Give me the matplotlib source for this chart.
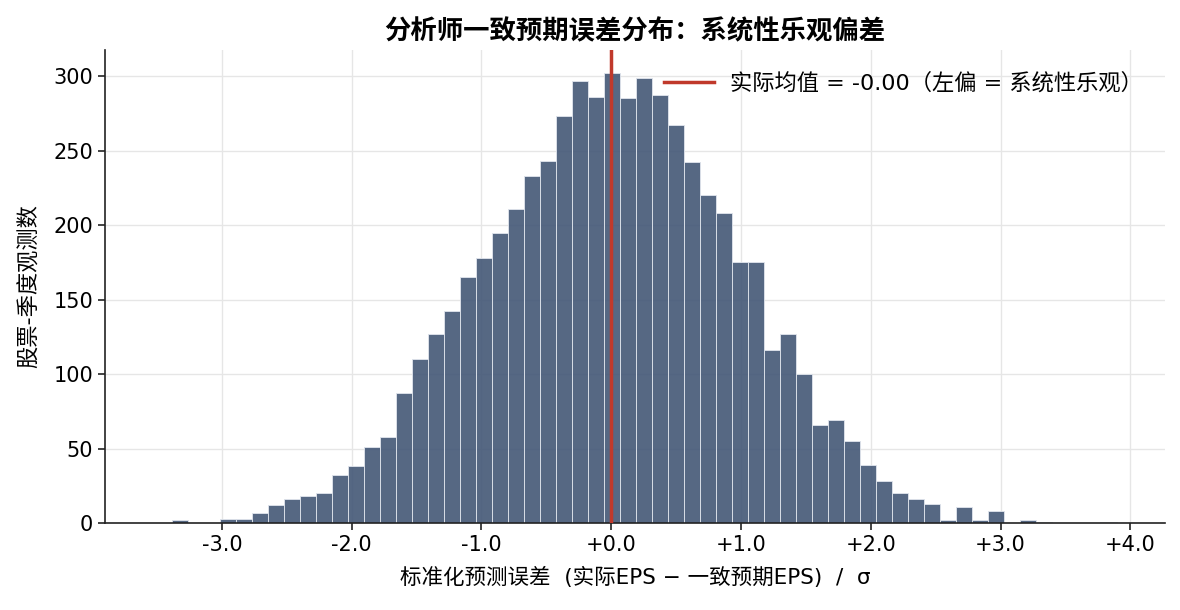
import numpy as np
import matplotlib
matplotlib.use("Agg")
import matplotlib.pyplot as plt
from matplotlib.ticker import FuncFormatter

plt.rcParams['font.family'] = ['DejaVu Sans', 'Noto Sans CJK SC']
plt.rcParams['axes.unicode_minus'] = False

# Histogram bin edges (standardised forecast error) and counts per bin
bin_left = -3.387
bin_right = 3.893
n_bins = 59
counts = [2, 0, 0, 3, 3, 7, 12, 16, 18, 20,
          32, 38, 51, 58, 87, 110, 127, 142, 165, 178,
          195, 211, 233, 243, 273, 297, 286, 302, 285, 299,
          287, 267, 242, 220, 208, 175, 175, 116, 127, 100,
          66, 69, 55, 39, 28, 20, 16, 13, 2, 11,
          2, 8, 0, 2, 1, 0, 0, 0, 1]
mean_value = -0.001
xticks = [-3, -2, -1, 0, 1, 2, 3, 4]
yticks = [0, 50, 100, 150, 200, 250, 300]

edges = np.linspace(bin_left, bin_right, n_bins + 1)
centers = (edges[:-1] + edges[1:]) / 2

fig = plt.figure(figsize=(11.8, 6.1), dpi=100)
ax = fig.add_axes([0.089, 0.1426, 0.898, 0.7754])

ax.hist(centers, bins=edges, weights=counts, color='#435776', alpha=0.9,
        edgecolor='#dfe4ec', linewidth=0.7, zorder=2)
ax.axvline(mean_value, color='#c0392b', linewidth=2.5, zorder=3,
           label=f'实际均值 = {mean_value:.2f}（左偏 = 系统性乐观）')

ax.set_xlim(-3.9, 4.264)
ax.set_ylim(0, 317.5)
ax.set_xticks(xticks)
ax.set_yticks(yticks)
ax.xaxis.set_major_formatter(FuncFormatter(lambda v, p: f'{v:+.1f}'))
ax.tick_params(labelsize=15, length=5, width=1.2, color='#222222')
ax.grid(True, color='#e6e6e6', linewidth=1, zorder=0)
ax.set_axisbelow(True)
for s in ['top', 'right']:
    ax.spines[s].set_visible(False)
for s in ['left', 'bottom']:
    ax.spines[s].set_linewidth(1.2)
    ax.spines[s].set_color('#222222')

ax.set_title('分析师一致预期误差分布：系统性乐观偏差', fontsize=19, fontweight='bold', pad=8)
ax.set_xlabel('标准化预测误差  (实际EPS − 一致预期EPS)  /  σ', fontsize=15.5, labelpad=9)
ax.set_ylabel('股票-季度观测数', fontsize=16, labelpad=10)
ax.legend(loc='upper right', frameon=False, fontsize=16, handlelength=2.25,
          handletextpad=0.7, borderaxespad=0.6)

fig.savefig('out.png', dpi=100)
